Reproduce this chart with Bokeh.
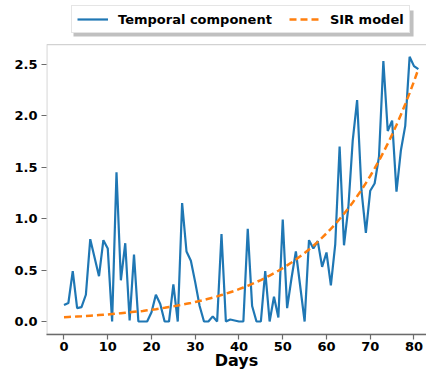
from bokeh.plotting import figure
from bokeh.models import LinearAxis, FixedTicker, Legend, LegendItem, Range1d, BoxAnnotation
from bokeh.embed import file_html
from bokeh.resources import INLINE

days = list(range(82))
temporal = [0.16, 0.18, 0.49, 0.13, 0.14, 0.26, 0.80, 0.62, 0.44, 0.79,
            0.71, 0.00, 1.45, 0.40, 0.76, 0.01, 0.65, 0.00, 0.00, 0.00,
            0.09, 0.26, 0.17, 0.00, 0.00, 0.36, 0.00, 1.15, 0.68, 0.59,
            0.38, 0.15, 0.00, 0.00, 0.05, 0.00, 0.85, 0.00, 0.02, 0.01,
            0.00, 0.00, 0.90, 0.15, 0.00, 0.00, 0.49, 0.00, 0.24, 0.04,
            0.99, 0.13, 0.42, 0.68, 0.34, 0.00, 0.79, 0.71, 0.78, 0.53,
            0.67, 0.35, 0.75, 1.70, 0.74, 1.11, 1.76, 2.15, 1.27, 0.86,
            1.27, 1.34, 1.60, 2.53, 1.85, 1.95, 1.26, 1.66, 1.90, 2.57,
            2.48, 2.45]
sir = [0.042, 0.044, 0.046, 0.049, 0.051, 0.054, 0.057, 0.060, 0.063, 0.066,
       0.069, 0.073, 0.077, 0.081, 0.085, 0.089, 0.094, 0.098, 0.103, 0.109,
       0.115, 0.120, 0.127, 0.133, 0.140, 0.147, 0.155, 0.163, 0.172, 0.180,
       0.190, 0.200, 0.210, 0.221, 0.232, 0.244, 0.257, 0.270, 0.284, 0.298,
       0.314, 0.330, 0.347, 0.365, 0.384, 0.403, 0.424, 0.446, 0.469, 0.493,
       0.518, 0.545, 0.573, 0.602, 0.633, 0.666, 0.700, 0.736, 0.774, 0.814,
       0.856, 0.900, 0.946, 0.995, 1.046, 1.100, 1.156, 1.216, 1.278, 1.344,
       1.413, 1.486, 1.562, 1.642, 1.727, 1.815, 1.909, 2.007, 2.110, 2.218,
       2.332, 2.452]
x_ticks = [0, 10, 20, 30, 40, 50, 60, 70, 80]
y_ticks = [0.0, 0.5, 1.0, 1.5, 2.0, 2.5]

FONT = "DejaVu Sans"
SPINE = "#6b6b6b"
X_LO, X_HI = -4.0, 82.86
Y_LO, Y_TOP, Y_CANVAS_TOP = -0.126, 2.689, 3.117

p = figure(width=426, height=375, output_backend="svg", toolbar_location=None,
           x_range=Range1d(X_LO, X_HI), y_range=Range1d(Y_LO, Y_CANVAS_TOP),
           x_axis_location=None, y_axis_location=None,
           min_border_left=46, min_border_right=0, min_border_bottom=41,
           min_border_top=0)
p.outline_line_color = None
p.grid.visible = False
p.background_fill_color = "white"
p.border_fill_color = "white"

l1 = p.line(days, temporal, line_color="#1f77b4", line_width=2.2)
l2 = p.line(days, sir, line_color="#ff7f0e", line_width=2.5, line_dash="7 4")

# axes box (left, top, bottom spines; right side is cut off as in the reference)
p.add_layout(BoxAnnotation(left=X_LO + 0.08, right=X_HI + 20, bottom=Y_LO, top=Y_TOP,
                           fill_color=None, fill_alpha=0, line_color=SPINE,
                           line_width=1.3))

def style_axis(ax):
    ax.axis_line_color = SPINE
    ax.axis_line_width = 1.3
    ax.major_tick_line_color = SPINE
    ax.major_tick_line_width = 1.2
    ax.major_tick_out = 5
    ax.major_tick_in = 0
    ax.minor_tick_out = 0
    ax.minor_tick_in = 0
    ax.major_label_text_font = FONT
    ax.major_label_text_font_style = "bold"
    ax.major_label_text_font_size = "13px"
    ax.major_label_text_color = "black"
    ax.major_label_standoff = 4

xaxis = LinearAxis(ticker=FixedTicker(ticks=x_ticks), axis_label="Days")
style_axis(xaxis)
xaxis.major_label_standoff = 2
xaxis.axis_label_text_font = FONT
xaxis.axis_label_text_font_style = "bold"
xaxis.axis_label_text_font_size = "16px"
xaxis.axis_label_text_color = "black"
xaxis.axis_label_standoff = -3
p.add_layout(xaxis, "below")

yaxis = LinearAxis(ticker=FixedTicker(ticks=y_ticks))
style_axis(yaxis)
yaxis.axis_line_color = None
yaxis.major_label_overrides = {0.0: "0.0", 1.0: "1.0", 2.0: "2.0"}
p.add_layout(yaxis, "left")

# legend shadow
p.add_layout(BoxAnnotation(left=2.17, right=79.9, bottom=2.767, top=3.019,
                           fill_color="#8c8c8c", fill_alpha=0.55, line_color=None))

legend = Legend(items=[LegendItem(label="Temporal component", renderers=[l1]),
                       LegendItem(label="SIR model", renderers=[l2])],
                orientation="horizontal", location=(25, 301))
legend.label_text_font = FONT
legend.label_text_font_style = "bold"
legend.label_text_font_size = "13px"
legend.label_text_color = "black"
legend.label_height = 16
legend.glyph_height = 16
legend.glyph_width = 31
legend.label_standoff = 10
legend.spacing = 17
legend.padding = 5
legend.margin = 0
legend.border_line_color = "#cccccc"
legend.border_line_width = 1
legend.background_fill_color = "white"
legend.background_fill_alpha = 1.0
p.add_layout(legend, "center")

open("out.html", "w").write(file_html(p, INLINE))
